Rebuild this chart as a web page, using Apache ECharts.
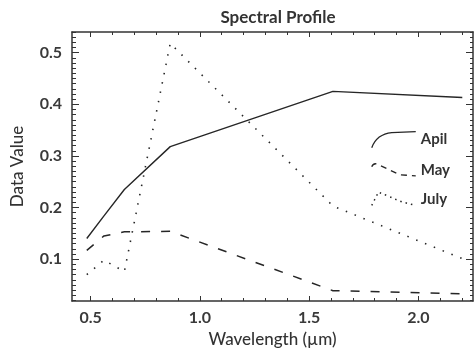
<!DOCTYPE html>
<html>
<head>
<meta charset="utf-8">
<script src="https://cdn.jsdelivr.net/npm/echarts@6/dist/echarts.min.js"></script>
<style>
  html, body { margin: 0; padding: 0; background: #fff; }
  #chart { width: 476px; height: 353px; }
</style>
</head>
<body>
<div id="chart"></div>
<script>
// band centres (um) and reflectance per month
const wavelengths = [0.4826, 0.5613, 0.6546, 0.8646, 1.609, 2.201];
const april = [0.140, 0.184, 0.235, 0.318, 0.425, 0.413];
const may = [0.117, 0.145, 0.153, 0.154, 0.039, 0.033];
const july = [0.070, 0.098, 0.076, 0.518, 0.203, 0.101];
const seriesNames = ['Apil', 'May', 'July'];

const xTicks = [0.5, 1.0, 1.5, 2.0];
const yTicks = [0.1, 0.2, 0.3, 0.4, 0.5];
const xRange = [0.415, 2.25];
const yRange = [0.019, 0.54];

const xMinor = [];
for (let i = 5; i <= 22; i++) xMinor.push(i / 10);
const yMinor = [];
for (let i = 2; i <= 54; i++) yMinor.push(i / 100);

const FONT = 'Lato';
const INK = '#262626';

const chart = echarts.init(document.getElementById('chart'));

function frameAxis(pos, range, ticks, len, extra) {
  return Object.assign({
    type: 'value',
    position: pos,
    min: range[0],
    max: range[1],
    splitLine: { show: false },
    axisLine: { show: true, onZero: false, lineStyle: { color: '#333', width: 1.5 } },
    axisTick: { show: true, inside: true, length: len, customValues: ticks, lineStyle: { color: '#333', width: 1 } },
    axisLabel: { show: false }
  }, extra || {});
}

const labelStyle = {
  fontFamily: FONT,
  fontSize: 16,
  fontWeight: 'bold',
  color: '#3a3a3a',
  formatter: v => v.toFixed(1)
};

const option = {
  animation: false,
  backgroundColor: '#fff',
  title: {
    text: 'Spectral Profile',
    left: 273,
    textAlign: 'center',
    top: 4,
    textStyle: { fontFamily: FONT, fontSize: 17, fontWeight: 'bold', color: '#333' }
  },
  grid: { left: 72, right: 3, top: 32, bottom: 46 },
  legend: {
    orient: 'vertical',
    left: 366,
    top: 126,
    itemWidth: 44,
    itemHeight: 16,
    itemGap: 14,
    selectedMode: false,
    textStyle: { fontFamily: FONT, fontSize: 15, fontWeight: 'bold', color: '#333' },
    data: [
      { name: seriesNames[0], icon: 'path://M0,16C3,8 10,2 20,1L44,0',
        itemStyle: { color: 'transparent', borderColor: INK, borderWidth: 1.3, borderType: 'solid' } },
      { name: seriesNames[1], icon: 'path://M0,4C1,1 4,0 7,2L28,12L44,13',
        itemStyle: { color: 'transparent', borderColor: INK, borderWidth: 1.3, borderType: [6, 5] } },
      { name: seriesNames[2], icon: 'path://M0,12L6,0C12,2 20,6 28,9L40,12',
        itemStyle: { color: 'transparent', borderColor: INK, borderWidth: 1.5, borderType: [1.5, 4] } }
    ]
  },
  xAxis: [
    frameAxis('bottom', xRange, xTicks, 5, {
      name: 'Wavelength (µm)',
      nameLocation: 'middle',
      nameGap: 30,
      nameTextStyle: { fontFamily: FONT, fontSize: 17, fontWeight: 500, color: '#333' },
      axisLabel: Object.assign({ show: true, margin: 9, customValues: xTicks }, labelStyle)
    }),
    frameAxis('bottom', xRange, xMinor, 3, { axisLine: { show: false } }),
    frameAxis('top', xRange, xTicks, 5),
    frameAxis('top', xRange, xMinor, 3, { axisLine: { show: false } })
  ],
  yAxis: [
    frameAxis('left', yRange, yTicks, 7, {
      name: 'Data Value',
      nameLocation: 'middle',
      nameGap: 46,
      nameTextStyle: { fontFamily: FONT, fontSize: 17, fontWeight: 500, color: '#333' },
      axisLabel: Object.assign({ show: true, margin: 10, customValues: yTicks }, labelStyle)
    }),
    frameAxis('left', yRange, yMinor, 4, { axisLine: { show: false } }),
    frameAxis('right', yRange, yTicks, 7),
    frameAxis('right', yRange, yMinor, 3, { axisLine: { show: false } })
  ],
  series: [
    { values: april, dash: 'solid', width: 1.4 },
    { values: may, dash: [9, 11], width: 1.5 },
    { values: july, dash: [1.5, 8], width: 1.6 }
  ].map((s, k) => ({
    name: seriesNames[k],
    type: 'line',
    xAxisIndex: 0,
    yAxisIndex: 0,
    symbol: 'none',
    lineStyle: { color: INK, width: s.width, type: s.dash },
    itemStyle: { color: INK },
    data: wavelengths.map((w, i) => [w, s.values[i]])
  }))
};

chart.setOption(option);
</script>
</body>
</html>
